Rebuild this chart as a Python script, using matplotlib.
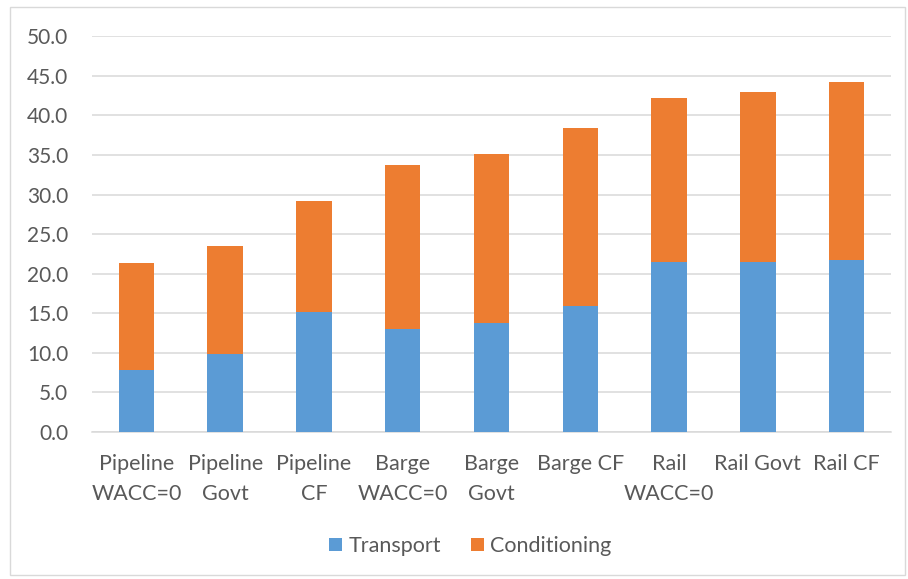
import matplotlib.pyplot as plt
import numpy as np
from matplotlib.patches import Rectangle

plt.rcParams['font.family'] = ['Lato', 'DejaVu Sans']

# cost per route, two stacked components
routes = ['Pipeline\nWACC=0', 'Pipeline\nGovt', 'Pipeline\nCF',
          'Barge\nWACC=0', 'Barge\nGovt', 'Barge CF',
          'Rail\nWACC=0', 'Rail Govt', 'Rail CF']
transport = [7.8, 9.8, 15.2, 13.0, 13.8, 15.9, 21.5, 21.5, 21.7]
total = [21.3, 23.5, 29.2, 33.7, 35.1, 38.4, 42.2, 42.9, 44.2]
conditioning = [t - s for t, s in zip(total, transport)]
yticks = np.arange(0, 55, 5)

blue = '#5B9BD5'
orange = '#ED7D31'
textcolor = '#595959'
gridcolor = '#D9D9D9'

fig = plt.figure(figsize=(9.08, 5.79), dpi=100, facecolor='white')
ax = fig.add_axes([0.1013, 0.2539, 0.88, 0.6834])

x = np.arange(len(routes))
ax.bar(x, transport, width=0.4, color=blue, label='Transport', zorder=3)
ax.bar(x, conditioning, width=0.4, bottom=transport, color=orange,
       label='Conditioning', zorder=3)

ax.set_xlim(-0.5, len(routes) - 0.5)
ax.set_ylim(0, 50)
ax.set_yticks(yticks)
ax.set_yticklabels(['{:.1f}'.format(v) for v in yticks], fontsize=15)
ax.set_xticks(x)
ax.set_xticklabels(routes, linespacing=1.6, fontsize=15.5)
ax.tick_params(axis='both', length=0, colors=textcolor)
ax.tick_params(axis='y', pad=17)
ax.tick_params(axis='x', pad=16)
ax.yaxis.grid(True, color=gridcolor, linewidth=1.1, zorder=0)
for side in ['top', 'right', 'left']:
    ax.spines[side].set_visible(False)
ax.spines['bottom'].set_color(gridcolor)
ax.spines['bottom'].set_linewidth(1.1)

fig.legend(loc='center', bbox_to_anchor=(0.518, 1 - 546 / 579), ncol=2,
           frameon=False, fontsize=15.5, handlelength=0.6, handleheight=0.6,
           handletextpad=0.3, columnspacing=1.4, labelcolor=textcolor)

# light frame around the whole chart
fig.patches.append(Rectangle((10 / 908, 4 / 579), 895 / 908, 568 / 579,
                             transform=fig.transFigure, fill=False,
                             edgecolor=gridcolor, linewidth=1.0))

fig.savefig('out.png', dpi=100, facecolor=fig.get_facecolor())
